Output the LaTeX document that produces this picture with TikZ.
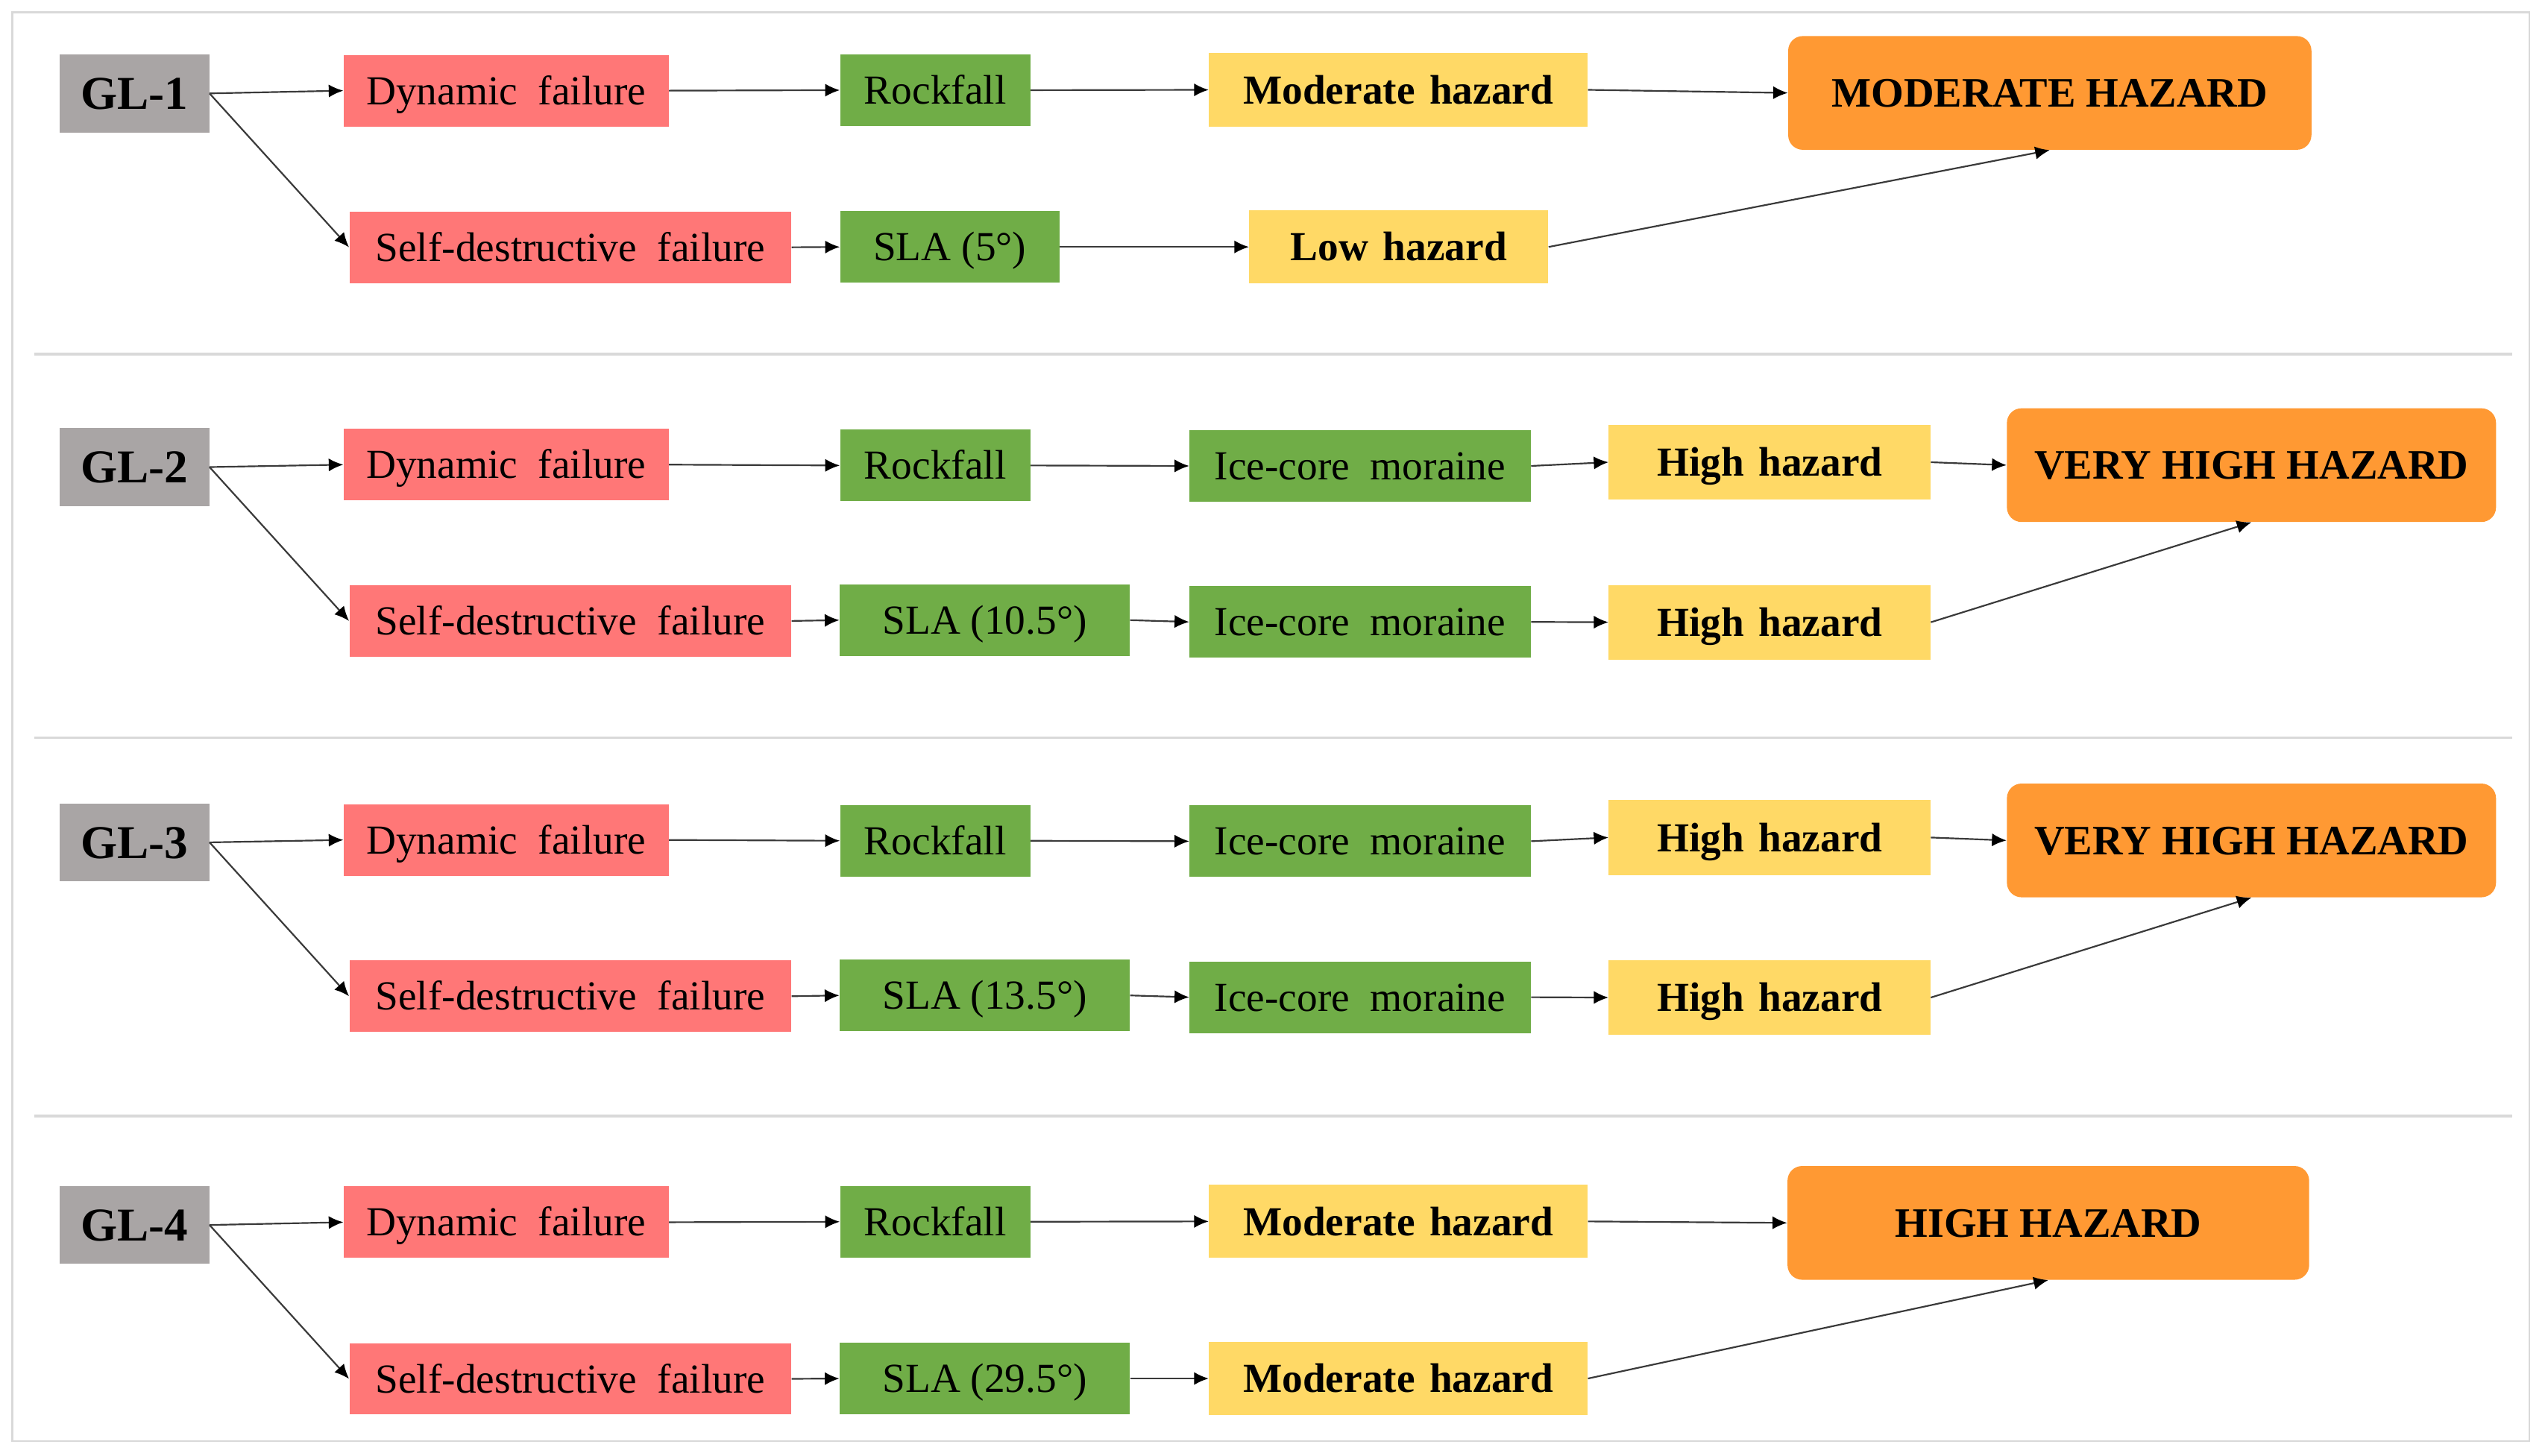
\documentclass[tikz,border=0pt]{standalone}
\usepackage{fontspec}
\setmainfont{Liberation Serif}
\usetikzlibrary{arrows.meta}
\definecolor{glgray}{HTML}{A9A5A5}
\definecolor{failred}{HTML}{FF7777}
\definecolor{procgreen}{HTML}{70AD47}
\definecolor{hazyellow}{HTML}{FFD966}
\definecolor{finalorange}{HTML}{FF9933}
\definecolor{arrowgray}{HTML}{3A3A3A}
\definecolor{sepgray}{HTML}{D9D9D9}
\newcommand{\ws}{\hspace{0.5em}}
\newcommand{\bws}{\hspace{0.35em}}
\begin{document}
\begin{tikzpicture}[x=1pt,y=-1pt,
  box/.style={inner sep=0pt, anchor=center, text height=17pt, text depth=0pt, font=\fontsize{25.4}{30}\selectfont},
  glbox/.style={box, fill=glgray, minimum width=92pt, minimum height=48pt, text height=19.6pt, font=\fontsize{29}{34}\selectfont\bfseries},
  failbox/.style={box, fill=failred, minimum height=44pt},
  procbox/.style={box, fill=procgreen, minimum height=44pt},
  hazbox/.style={box, fill=hazyellow, minimum height=45pt, text height=17.2pt, font=\fontsize{25.4}{30}\selectfont\bfseries},
  finalbox/.style={box, fill=finalorange, rounded corners=9pt, minimum height=70pt, text height=17.4pt, font=\fontsize{25.8}{30}\selectfont\bfseries},
  arr/.style={draw=arrowgray, line width=1pt, -{Latex[length=9pt,width=8pt,color=black]}},
  sepline/.style={draw=sepgray, line width=1.5pt}]

\useasboundingbox (0,0) rectangle (1568,896);
\fill[white] (0,0) rectangle (1568,896);
\draw[draw=sepgray, line width=1.2pt] (7.7,7.5) rectangle (1556.5,887);
\draw[sepline] (21,218) -- (1546,218);
\draw[sepline] (21,454) -- (1546,454);
\draw[sepline] (21,687) -- (1546,687);

% ---------- Row 1 ----------
\node[glbox] (gl1) at (82.75,57.5) {GL-1};
\node[failbox, minimum width=200pt] (d1) at (311.5,55.8) {Dynamic\ws failure};
\node[failbox, minimum width=272pt] (s1) at (351,152.2) {Self-destructive\ws failure};
\node[procbox, minimum width=117pt] (r1) at (575.5,55.5) {Rockfall};
\node[procbox, minimum width=135pt] (a1) at (584.5,152) {SLA (5°)};
\node[hazbox, minimum width=233pt] (m1) at (860.5,55.3) {Moderate\bws hazard};
\node[hazbox, minimum width=184pt] (l1) at (860.8,152) {Low\bws hazard};
\node[finalbox, minimum width=322pt] (f1) at (1261.4,57.2) {MODERATE HAZARD};
\draw[arr] (gl1.east) -- (d1.west);
\draw[arr] (gl1.east) -- (s1.west);
\draw[arr] (d1.east) -- (r1.west);
\draw[arr] (r1.east) -- (m1.west);
\draw[arr] (m1.east) -- (f1.west);
\draw[arr] (s1.east) -- (a1.west);
\draw[arr] (a1.east) -- (l1.west);
\draw[arr] (l1.east) -- (f1.south);

% ---------- Rows 2 and 3 ----------
\foreach \n/\dy/\deg in {2/0/10.5,3/231/13.5}{
  \node[glbox] (gl\n) at (82.75,287.5+\dy) {GL-\n};
  \node[failbox, minimum width=200pt] (d\n) at (311.5,286+\dy) {Dynamic\ws failure};
  \node[failbox, minimum width=272pt] (s\n) at (351,382.2+\dy) {Self-destructive\ws failure};
  \node[procbox, minimum width=117pt] (r\n) at (575.5,286.5+\dy) {Rockfall};
  \node[procbox, minimum width=178.5pt] (a\n) at (606,381.7+\dy) {SLA (\deg°)};
  \node[procbox, minimum width=210pt] (ia\n) at (837,286.8+\dy) {Ice-core\ws moraine};
  \node[procbox, minimum width=210pt] (ib\n) at (837,382.8+\dy) {Ice-core\ws moraine};
  \node[hazbox, minimum width=198pt, minimum height=46pt] (ha\n) at (1089,284.5+\dy) {High\bws hazard};
  \node[hazbox, minimum width=198pt, minimum height=46pt] (hb\n) at (1089,383+\dy) {High\bws hazard};
  \node[finalbox, minimum width=301pt] (v\n) at (1385.5,286.3+\dy) {VERY HIGH HAZARD};
  \draw[arr] (gl\n.east) -- (d\n.west);
  \draw[arr] (gl\n.east) -- (s\n.west);
  \draw[arr] (d\n.east) -- (r\n.west);
  \draw[arr] (r\n.east) -- (ia\n.west);
  \draw[arr] (ia\n.east) -- (ha\n.west);
  \draw[arr] (ha\n.east) -- (v\n.west);
  \draw[arr] (s\n.east) -- (a\n.west);
  \draw[arr] (a\n.east) -- (ib\n.west);
  \draw[arr] (ib\n.east) -- (hb\n.west);
  \draw[arr] (hb\n.east) -- (v\n.south);
}

% ---------- Row 4 ----------
\node[glbox] (gl4) at (82.75,754) {GL-4};
\node[failbox, minimum width=200pt] (d4) at (311.5,752.3) {Dynamic\ws failure};
\node[failbox, minimum width=272pt] (s4) at (351,848.7) {Self-destructive\ws failure};
\node[procbox, minimum width=117pt] (r4) at (575.5,752) {Rockfall};
\node[procbox, minimum width=178.5pt] (a4) at (606,848.5) {SLA (29.5°)};
\node[hazbox, minimum width=233pt] (m4a) at (860.5,751.8) {Moderate\bws hazard};
\node[hazbox, minimum width=233pt] (m4b) at (860.5,848.5) {Moderate\bws hazard};
\node[finalbox, minimum width=321pt] (f4) at (1260.5,752.7) {HIGH HAZARD};
\draw[arr] (gl4.east) -- (d4.west);
\draw[arr] (gl4.east) -- (s4.west);
\draw[arr] (d4.east) -- (r4.west);
\draw[arr] (r4.east) -- (m4a.west);
\draw[arr] (m4a.east) -- (f4.west);
\draw[arr] (s4.east) -- (a4.west);
\draw[arr] (a4.east) -- (m4b.west);
\draw[arr] (m4b.east) -- (f4.south);
\end{tikzpicture}
\end{document}
